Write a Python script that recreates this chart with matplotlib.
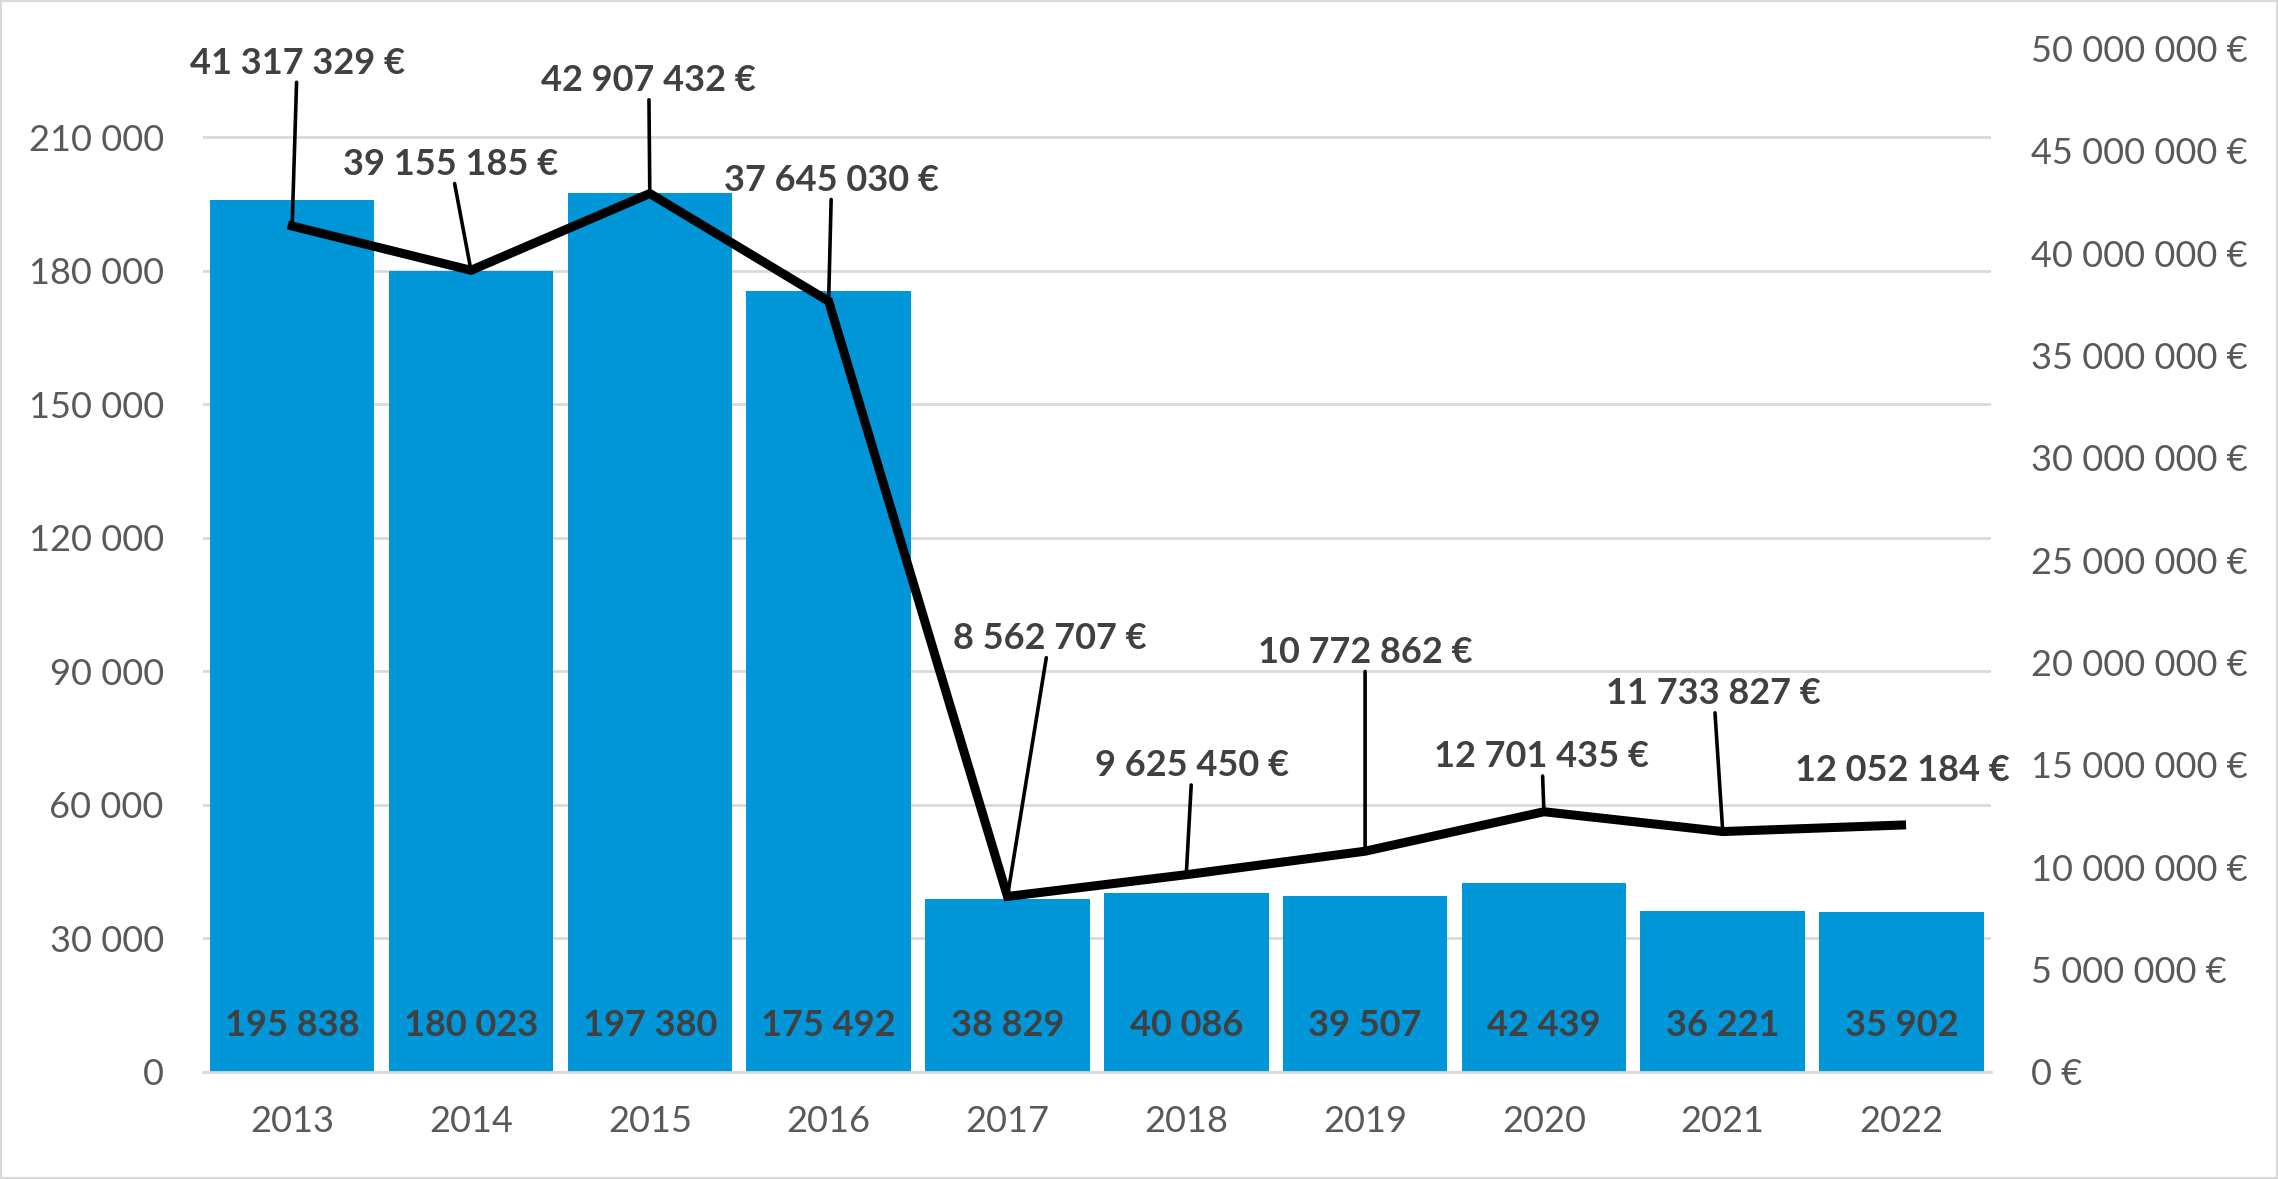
import matplotlib.pyplot as plt
from matplotlib.patches import Rectangle
from matplotlib.ticker import FuncFormatter, FixedLocator

plt.rcParams['font.family'] = ['Lato', 'DejaVu Sans']

years = ['2013', '2014', '2015', '2016', '2017', '2018', '2019', '2020', '2021', '2022']
counts = [195838, 180023, 197380, 175492, 38829, 40086, 39507, 42439, 36221, 35902]
amounts = [41317329, 39155185, 42907432, 37645030, 8562707, 9625450, 10772862,
           12701435, 11733827, 12052184]

# where each amount label sits, in pixels from its point (Excel moved them by hand)
label_dx = [5, -20, -1, 3, 42, 6, 0, -2, -9, 1]
label_dy = [163, 106, 113, 121, 258, 109, 199, 55, 138, 55]
leader = [True, True, True, True, True, True, True, True, True, False]

left_ticks = [0, 30000, 60000, 90000, 120000, 150000, 180000, 210000]
right_ticks = [0, 5000000, 10000000, 15000000, 20000000, 25000000, 30000000,
               35000000, 40000000, 45000000, 50000000]


def spaced(v):
    return f"{v:,.0f}".replace(",", " ")


tick_col = '#595959'
lab_col = '#404040'
grid_col = '#d9d9d9'
fs = 26

fig = plt.figure(figsize=(22.78, 11.79), dpi=100)
ax = fig.add_axes([0.089, 0.091, 0.785, 0.868])
x = range(len(years))

ax.bar(x, counts, width=0.92, color='#0096d8', zorder=2)
ax.set_xlim(-0.5, len(years) - 0.5)
ax.set_ylim(0, 230000)
ax.yaxis.set_major_locator(FixedLocator(left_ticks))
ax.yaxis.set_major_formatter(FuncFormatter(lambda v, p: spaced(v)))
ax.set_xticks(list(x))
ax.set_xticklabels(years)
ax.grid(axis='y', color=grid_col, lw=2, zorder=0)
for s in ['top', 'left', 'right']:
    ax.spines[s].set_visible(False)
ax.spines['bottom'].set_color(grid_col)
ax.spines['bottom'].set_linewidth(2)
ax.tick_params(axis='y', length=0, pad=28, labelsize=fs, labelcolor=tick_col)
ax.tick_params(axis='x', length=0, pad=24, labelsize=fs, labelcolor=tick_col)

for i, c in enumerate(counts):
    ax.annotate(spaced(c), xy=(i, 0), xytext=(0, 46), textcoords='offset pixels',
                ha='center', va='center', fontsize=fs, fontweight='bold',
                color=lab_col, zorder=3)

ax2 = ax.twinx()
ax2.plot(x, amounts, color='black', lw=6.5, solid_joinstyle='miter', zorder=3)
ax2.set_ylim(0, 50000000)
ax2.yaxis.set_major_locator(FixedLocator(right_ticks))
ax2.yaxis.set_major_formatter(FuncFormatter(lambda v, p: spaced(v) + " €"))
for s in ['top', 'left', 'right', 'bottom']:
    ax2.spines[s].set_visible(False)
ax2.tick_params(axis='y', length=0, pad=29, labelsize=fs, labelcolor=tick_col)

for i, a in enumerate(amounts):
    props = None
    if leader[i]:
        props = dict(arrowstyle='-', color='black', lw=2.6, shrinkA=0, shrinkB=0)
    ax2.annotate(spaced(a) + " €", xy=(i, a), xytext=(label_dx[i], label_dy[i]),
                 textcoords='offset pixels', ha='center', va='center',
                 fontsize=fs, fontweight='bold', color=lab_col,
                 arrowprops=props, zorder=4)

fig.patches.append(Rectangle((0, 0), 1, 1, transform=fig.transFigure, fill=False,
                             edgecolor=grid_col, lw=3))

fig.savefig('out.png', dpi=100)
